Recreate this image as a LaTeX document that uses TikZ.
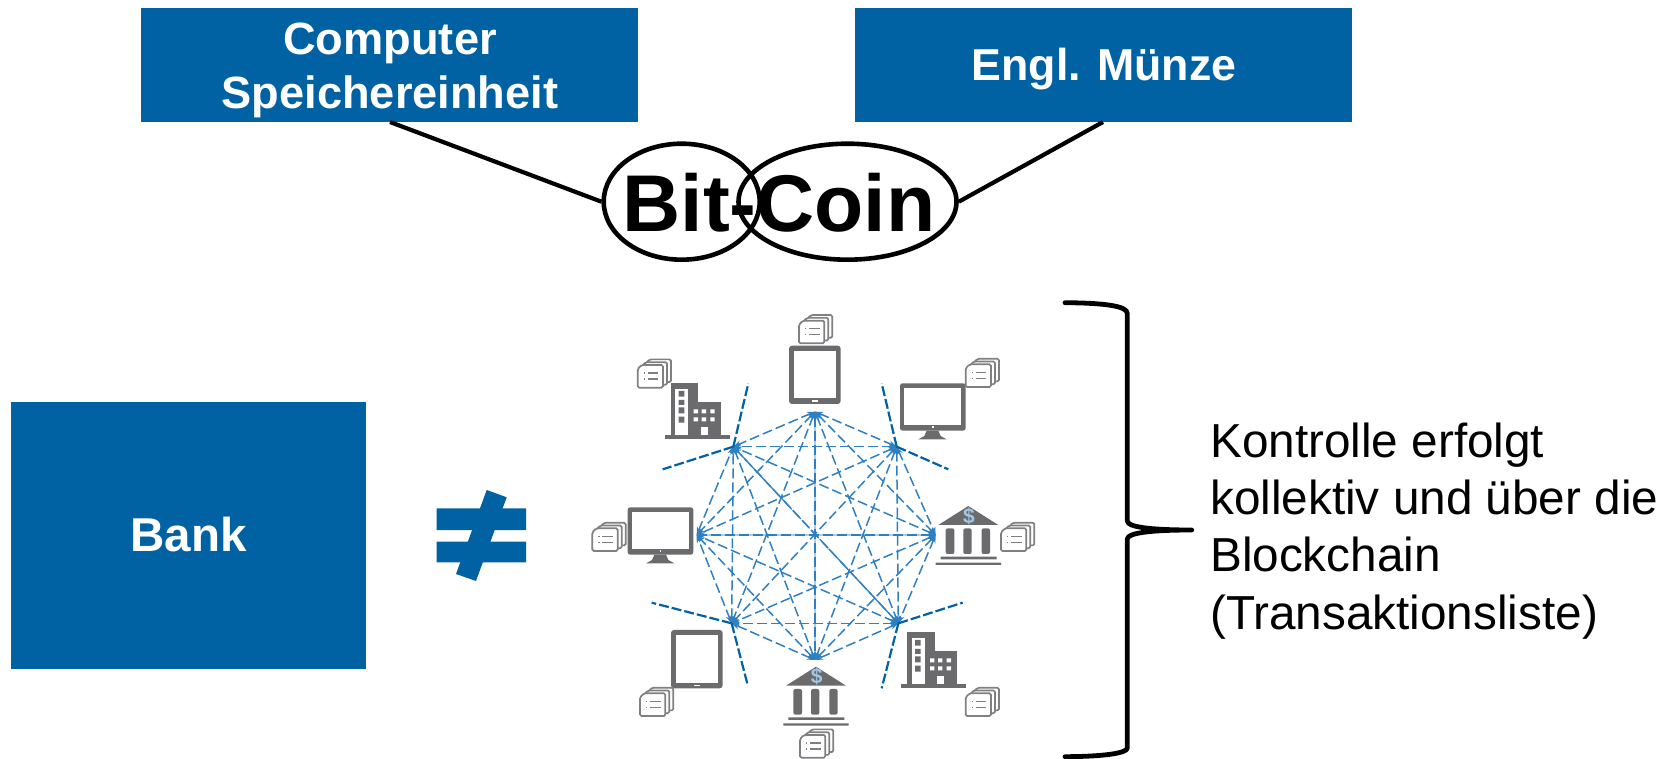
\documentclass[tikz,border=0pt]{standalone}
\usepackage{fontspec}
\setmainfont{Liberation Sans}
\usetikzlibrary{shapes.geometric,arrows.meta}
\definecolor{bankblue}{HTML}{0062A3}
\definecolor{netblue}{HTML}{2F80C2}
\definecolor{icongray}{HTML}{6B6B6D}
\definecolor{docgray}{HTML}{808082}
\tikzset{
  bluebox/.style={fill=bankblue,draw=none,text=white,inner sep=0pt,font=\bfseries\fontsize{45.2}{54}\selectfont,align=center},
  bitring/.style={ellipse,draw=black,line width=4.6pt,inner sep=0pt},
  link/.style={draw=black,line width=4.2pt},
  netline/.style={draw=netblue,line width=1.5pt,dash pattern=on 10pt off 4pt,{Stealth[length=8pt,width=6pt]}-{Stealth[length=8pt,width=6pt]}},
  netover/.style={draw=netblue,draw opacity=0.4,line width=1.3pt,dash pattern=on 10pt off 4pt},
  spoke/.style={draw=bankblue,line width=2.2pt,dash pattern=on 10pt off 3pt},
  gfill/.style={fill=icongray,draw=none},
  wfill/.style={fill=white,draw=none},
  netDocs/.pic={
    \foreach \d in {24,12,0}{
      \draw[docgray,line width=1.7pt,fill=white,rounded corners=1.5pt]
        (\d,-\d*0.7+12)--(\d+12,-\d*0.7)--(\d+76,-\d*0.7)--(\d+76,-\d*0.7+68)--(\d,-\d*0.7+68)--cycle;
    }
    \draw[docgray,line width=1.4pt] (18,24)--(22,24) (30,24)--(62,24) (18,42)--(22,42) (30,42)--(62,42);
  },
  netTablet/.pic={
    \fill[gfill,rounded corners=3pt] (0,0) rectangle (155,175);
    \fill[wfill] (15,15) rectangle (140,158);
    \fill[wfill] (70,164) rectangle (86,169);
  },
  netMonitor/.pic={
    \fill[gfill,rounded corners=2.5pt] (0,0) rectangle (197,142);
    \fill[wfill] (13,13) rectangle (184,124);
    \fill[wfill] (96,129) rectangle (101,134);
    \fill[gfill] (80,142)--(115,142)--(122,158)--(140,168)--(55,168)--(73,158)--cycle;
  },
  netBuilding/.pic={
    \fill[gfill] (19,0) rectangle (102,160);
    \fill[gfill] (72,57) rectangle (170,160);
    \fill[gfill] (2,155) rectangle (197,168);
    \fill[wfill] (33,18) rectangle (72,155);
    \fill[gfill] (43,23) rectangle (60,40) (43,50) rectangle (60,65) (43,72) rectangle (60,90) (43,100) rectangle (60,118);
    \foreach \wx in {88,112,138}{
      \fill[wfill] (\wx,78) rectangle +(13,12) (\wx,102) rectangle +(13,12);
    }
    \fill[wfill] (109,130) rectangle (131,155);
  },
  netBank/.pic={
    \fill[gfill] (98,0)--(188,57)--(8,57)--cycle;
    \fill[gfill,rounded corners=2pt] (30,67) rectangle (56,144) (83,67) rectangle (108,144) (138,67) rectangle (163,144);
    \fill[gfill] (15,152) rectangle (183,160) (0,170) rectangle (196,177);
    \node[text=netblue!45!white,inner sep=0pt,font=\bfseries\fontsize{21}{21}\selectfont] (dollar) at (100,30) {\$};
  }
}
\begin{document}
\begin{tikzpicture}[x=1pt,y=-1pt]
\useasboundingbox (0,0) rectangle (1676,759);
% top boxes
\node[bluebox,minimum width=497pt,minimum height=114pt,text depth=0pt] (comp) at (389.5,65) {};
\node[text=white,inner sep=0pt,font=\bfseries\fontsize{45.2}{54}\selectfont,align=center] (comptext) at (390,70) {Computer\\Speichereinheit};
\node[bluebox,minimum width=497pt,minimum height=114pt] (engl) at (1103.5,65) {};
\node[text=white,inner sep=0pt,font=\bfseries\fontsize{44.7}{54}\selectfont] (engltext) at (1104,69.5) {Engl. Münze};
\node[bluebox,minimum width=355pt,minimum height=267pt,font=\bfseries\fontsize{47.5}{54}\selectfont] (bank) at (188.5,535) {Bank};
% Bit-Coin
\node[bitring,minimum width=156pt,minimum height=116pt] (bit) at (681.7,201.7) {};
\node[bitring,minimum width=218pt,minimum height=116pt] (coin) at (847.5,201.7) {};
\node[anchor=base,inner sep=0pt,font=\bfseries\fontsize{80.5}{81}\selectfont] (word) at (779,231.7) {Bit-Coin};
\coordinate (compfoot) at (390,122);
\coordinate (englfoot) at (1103,122);
\draw[link] (compfoot) -- (bit.west);
\draw[link] (englfoot) -- (coin.east);
% not equal
\fill[bankblue] (436.7,508.3) rectangle (526,530) (436.7,541.7) rectangle (526,562.3);
\fill[bankblue] (486.7,490)--(506.7,497.3)--(476,581)--(456,574)--cycle;
% network
\begin{scope}[shift={(570,300)},x=0.33333pt,y=-0.33333pt]
  \coordinate (h1) at (735,335);
  \coordinate (h2) at (980,440);
  \coordinate (h3) at (1097,705);
  \coordinate (h4) at (985,970);
  \coordinate (h5) at (735,1080);
  \coordinate (h6) at (485,970);
  \coordinate (h7) at (380,705);
  \coordinate (h8) at (490,440);
  \foreach \a [count=\i] in {1,...,7}{
    \pgfmathtruncatemacro{\st}{\a+1}
    \foreach \b in {\st,...,8}{
      \draw[netline] (h\a) -- (h\b);
    }
  }
  \draw[netover] (h5) -- (h1);
  \draw[netover] (h3) -- (h7);
  \draw[netover,draw opacity=1,dash pattern=on 11pt off 2pt] (h4) -- (h8);
  \coordinate (s1) at (535,250);
  \coordinate (s2) at (278,508);
  \coordinate (s3) at (935,250);
  \coordinate (s4) at (1135,508);
  \coordinate (s5) at (245,908);
  \coordinate (s6) at (533,1155);
  \coordinate (s7) at (1178,908);
  \coordinate (s8) at (935,1165);
  \draw[spoke] (h8) -- (s1);
  \draw[spoke] (h8) -- (s2);
  \draw[spoke] (h2) -- (s3);
  \draw[spoke] (h2) -- (s4);
  \draw[spoke] (h6) -- (s5);
  \draw[spoke] (h6) -- (s6);
  \draw[spoke] (h4) -- (s7);
  \draw[spoke] (h4) -- (s8);
  % icons
  \pic (t1) at (657,137) {netTablet};
  \pic (t2) at (303,990) {netTablet};
  \pic (m1) at (990,250) {netMonitor};
  \pic (m2) at (173,622) {netMonitor};
  \pic (b1) at (283,250) {netBuilding};
  \pic (b2) at (992,997) {netBuilding};
  \pic (k1) at (1097,618) {netBank};
  \pic (k2) at (640,1100) {netBank};
  \pic (d1) at (687,62) {netDocs};
  \pic (d2) at (203,195) {netDocs};
  \pic (d3) at (1187,193) {netDocs};
  \pic (d4) at (67,685) {netDocs};
  \pic (d5) at (1293,685) {netDocs};
  \pic (d6) at (210,1180) {netDocs};
  \pic (d7) at (1187,1180) {netDocs};
  \pic (d8) at (690,1305) {netDocs};
\end{scope}
% brace
\draw[black,line width=4.8pt,line cap=round,line join=round] (1065,302.7) .. controls (1105,303) and (1127.3,306) .. (1127.3,313.5) -- (1127.3,521) .. controls (1127.3,527) and (1150,530) .. (1191.7,530) .. controls (1150,530) and (1127.3,533) .. (1127.3,539) -- (1127.3,748) .. controls (1127.3,753) and (1105,756.5) .. (1065,756.7);
% side text
\node[anchor=north west,inner sep=0pt,align=left,font=\fontsize{47.7}{57.3}\selectfont] (ctrl) at (1210,422.5) {Kontrolle erfolgt\\kollektiv und über die\\Blockchain\\(Transaktionsliste)};
\end{tikzpicture}
\end{document}
